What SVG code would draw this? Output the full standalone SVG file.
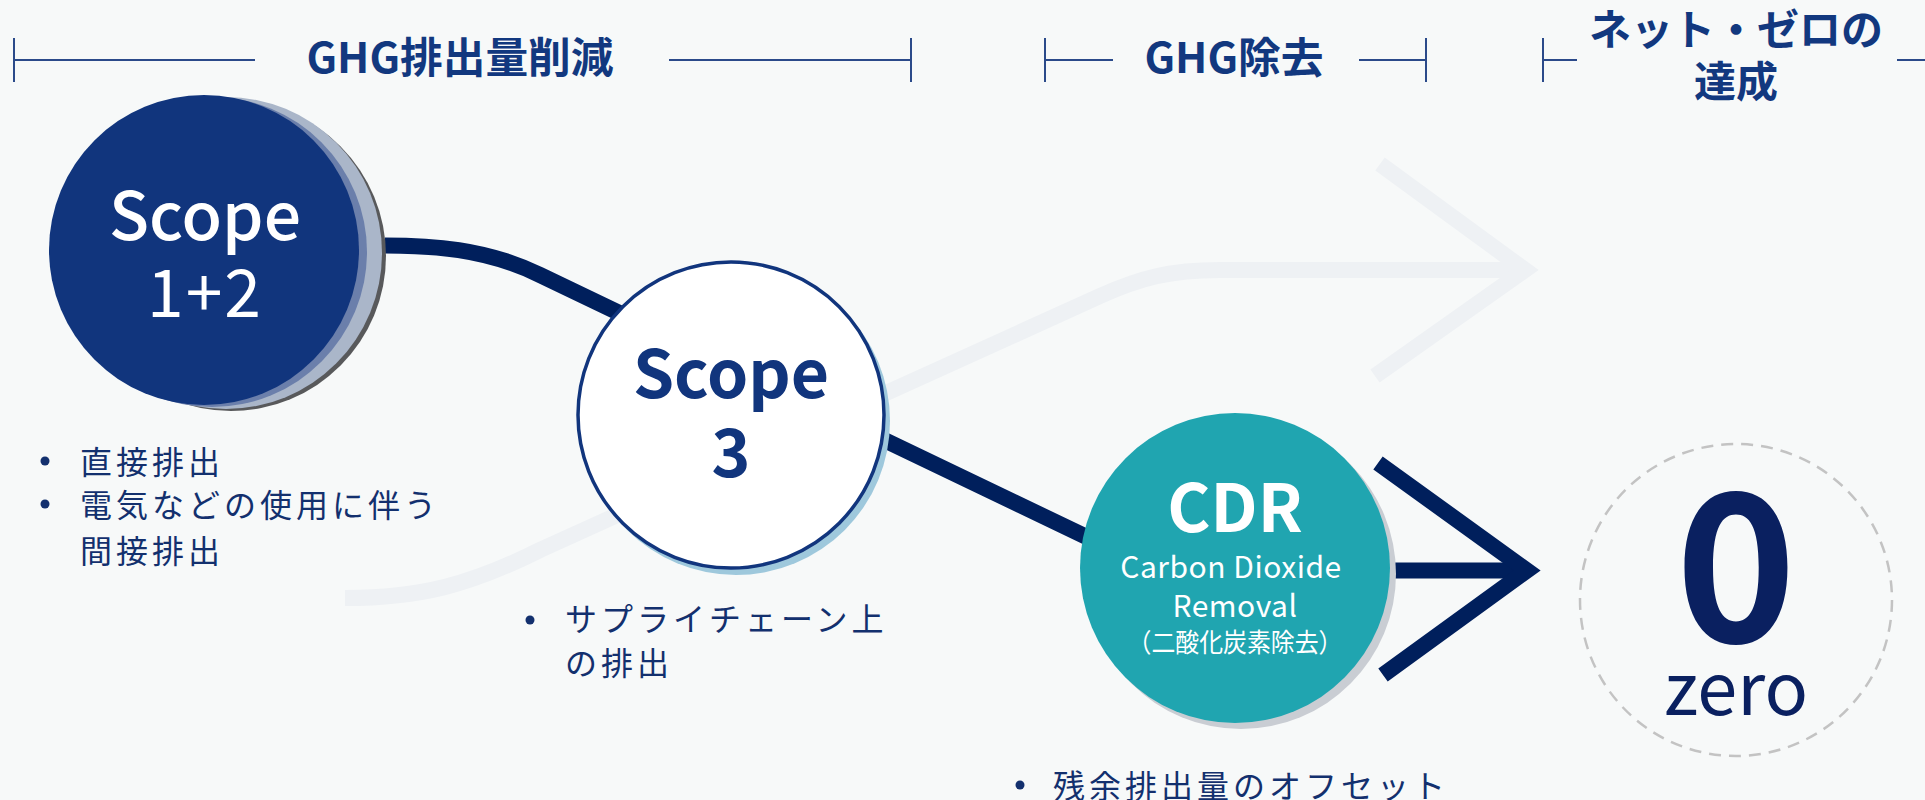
<svg xmlns="http://www.w3.org/2000/svg" width="1925" height="800" viewBox="0 0 1925 800">
<style>
text{font-family:"Noto Sans CJK JP","Noto Sans",sans-serif}
.hd{fill:#12387f;font-weight:700;font-size:42px}
.hl{stroke:#2b4a8a;stroke-width:2;fill:none}
.bl{fill:#13306e;font-size:32px;letter-spacing:4px}
.bd{fill:#13306e}
.conn{stroke:#001f5c;stroke-width:16;fill:none}
</style>
<rect width="1925" height="800" fill="#f7f9f9"/>
<g id="bg-arrow" fill="none" stroke="#eef1f4" stroke-width="16">
<path d="M345 598 C420 598 470 585 540 550 L1100 296 C1140 278 1170 270 1220 270 L1525 270"/>
<path d="M1380 164 L1525 270 L1375 376" stroke-miterlimit="10"/>
</g>
<g id="headers">
<path class="hl" d="M14 38V82M14 60H255M669 60H911M911 38V82"/>
<text class="hd" x="460" y="73" text-anchor="middle" textLength="307" lengthAdjust="spacingAndGlyphs">GHG排出量削減</text>
<path class="hl" d="M1045 38V82M1045 60H1113M1359 60H1426M1426 38V82"/>
<text class="hd" x="1234" y="73" text-anchor="middle" textLength="179" lengthAdjust="spacingAndGlyphs">GHG除去</text>
<path class="hl" d="M1543 38V82M1543 60H1577M1897 60H1925"/>
<text class="hd" x="1736" y="45" text-anchor="middle">ネット・ゼロの</text>
<text class="hd" x="1736" y="97" text-anchor="middle">達成</text>
</g>
<g id="connectors">
<path class="conn" d="M385 245.5 C430 245.5 485 248 540 275 L1095 541"/>
<path class="conn" d="M1385 570.5 H1528"/>
<path class="conn" d="M1378 463 L1527 570.5 L1383 675" stroke-miterlimit="10"/>
</g>
<g id="scope12">
<circle cx="231" cy="256" r="155" fill="#58595b"/>
<circle cx="226" cy="253" r="156" fill="#aab6c9"/>
<circle cx="212" cy="252" r="155" fill="#6b7fab"/>
<circle cx="204" cy="250" r="155" fill="#11357d"/>
<text x="205" y="240" text-anchor="middle" fill="#fff" font-size="66" font-weight="500">Scope</text>
<text x="205" y="317" text-anchor="middle" fill="#fff" font-size="66" letter-spacing="2">1+2</text>
</g>
<g id="scope3">
<circle cx="736" cy="421" r="154" fill="#9ec8dc"/>
<circle cx="731" cy="415" r="153" fill="#fff" stroke="#11357d" stroke-width="3.5"/>
<text x="731" y="398" text-anchor="middle" fill="#11357d" font-size="66" font-weight="700">Scope</text>
<text x="731" y="477" text-anchor="middle" fill="#11357d" font-size="66" font-weight="700">3</text>
</g>
<g id="cdr">
<circle cx="1241" cy="574" r="155" fill="#c9cdd3"/>
<circle cx="1235" cy="568" r="155" fill="#20a5b0"/>
<text x="1235" y="532" text-anchor="middle" fill="#fff" font-size="66" font-weight="700">CDR</text>
<text x="1231" y="578" text-anchor="middle" fill="#fff" font-size="30" letter-spacing="0.5">Carbon Dioxide</text>
<text x="1235" y="617" text-anchor="middle" fill="#fff" font-size="30" letter-spacing="0.5">Removal</text>
<text x="1235" y="652" text-anchor="middle" fill="#fff" font-size="26" textLength="215" lengthAdjust="spacingAndGlyphs">（二酸化炭素除去）</text>
</g>
<g id="zero">
<circle cx="1736" cy="600" r="156" fill="none" stroke="#c3c3c3" stroke-width="2.5" stroke-dasharray="12 8"/>
<text x="1736" y="642" text-anchor="middle" fill="#0a2060" font-size="205" font-weight="700">0</text>
<text x="1736" y="715" text-anchor="middle" fill="#0a2060" font-size="72">zero</text>
</g>
<g id="notes12">
<circle class="bd" cx="45" cy="461" r="4.5"/>
<circle class="bd" cx="45" cy="504" r="4.5"/>
<text class="bl" x="80" y="474">直接排出</text>
<text class="bl" x="80" y="517">電気などの使用に伴う</text>
<text class="bl" x="80" y="563">間接排出</text>
</g>
<g id="notes3">
<circle class="bd" cx="530" cy="620" r="4.5"/>
<text class="bl" x="565" y="631">サプライチェーン上</text>
<text class="bl" x="565" y="675">の排出</text>
</g>
<g id="notescdr">
<circle class="bd" cx="1020" cy="785" r="4.5"/>
<text class="bl" x="1053" y="798">残余排出量のオフセット</text>
</g>
</svg>
